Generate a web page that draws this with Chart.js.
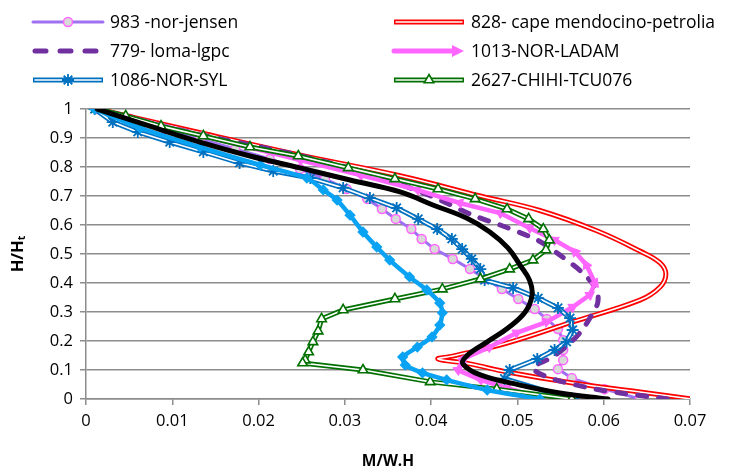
<!DOCTYPE html>
<html>
<head>
<meta charset="utf-8">
<script src="https://cdn.jsdelivr.net/npm/chart.js@4.4.1/dist/chart.umd.min.js"></script>
<style>
  body { margin: 0; background: #fff; }
  canvas { display: block; background: #fff; }
</style>
</head>
<body>
<canvas id="momentChart" width="734" height="473"></canvas>
<script>
// moment ratio M/W.H against normalised height H/Ht, one array pair per record
const jensenM = [0.0013, 0.0051, 0.0092, 0.0132, 0.0173, 0.0213, 0.0248, 0.0277, 0.0302, 0.0326, 0.0343, 0.0359, 0.0377, 0.0389, 0.0404, 0.0425, 0.0445, 0.0463, 0.0482, 0.0501, 0.052, 0.0534, 0.0547, 0.0553, 0.0553, 0.0553, 0.0547, 0.0563, 0.0601, 0.0642];
const jensenH = [1.0, 0.966, 0.931, 0.897, 0.862, 0.828, 0.793, 0.759, 0.724, 0.69, 0.655, 0.621, 0.586, 0.552, 0.517, 0.483, 0.448, 0.414, 0.379, 0.345, 0.31, 0.276, 0.241, 0.203, 0.169, 0.134, 0.103, 0.072, 0.034, 0.0];

const capeM = [0.0013, 0.013, 0.025, 0.0364, 0.0457, 0.0526, 0.0592, 0.0642, 0.0665, 0.0672, 0.0665, 0.0642, 0.0564, 0.0488, 0.0425, 0.0408, 0.0445, 0.0488, 0.0564, 0.0642, 0.0702];
const capeH = [1.0, 0.92, 0.84, 0.77, 0.70, 0.65, 0.58, 0.51, 0.47, 0.43, 0.385, 0.341, 0.266, 0.193, 0.148, 0.138, 0.121, 0.093, 0.055, 0.024, 0.0];

const lomaM = [0.0013, 0.012, 0.024, 0.033, 0.0402, 0.0448, 0.048, 0.0523, 0.0549, 0.0576, 0.0592, 0.0593, 0.0586, 0.0575, 0.0561, 0.0541, 0.0518, 0.0538, 0.0584, 0.0619, 0.0675];
const lomaH = [1.0, 0.92, 0.845, 0.775, 0.697, 0.634, 0.60, 0.548, 0.497, 0.434, 0.376, 0.331, 0.29, 0.238, 0.193, 0.145, 0.107, 0.072, 0.038, 0.021, 0.0];

// listed from the base upwards
const ladamM = [0.053, 0.0488, 0.0457, 0.0431, 0.0437, 0.0468, 0.0499, 0.0534, 0.0564, 0.0584, 0.059, 0.058, 0.0567, 0.0543, 0.0514, 0.048, 0.0433, 0.0384, 0.0318, 0.0248, 0.0132, 0.0013];
const ladamH = [0.0, 0.038, 0.066, 0.10, 0.138, 0.179, 0.228, 0.266, 0.317, 0.359, 0.40, 0.462, 0.507, 0.548, 0.59, 0.641, 0.676, 0.721, 0.772, 0.824, 0.91, 1.0];

const sylM = [0.001, 0.0031, 0.006, 0.0097, 0.0136, 0.0178, 0.0217, 0.026, 0.0298, 0.0329, 0.036, 0.0385, 0.0407, 0.0424, 0.0436, 0.0447, 0.0457, 0.0462, 0.0495, 0.0524, 0.0547, 0.0561, 0.0564, 0.0557, 0.0543, 0.0523, 0.0491, 0.0485, 0.0564];
const sylH = [1.0, 0.955, 0.921, 0.886, 0.852, 0.814, 0.786, 0.762, 0.728, 0.693, 0.659, 0.621, 0.586, 0.552, 0.517, 0.483, 0.448, 0.41, 0.383, 0.348, 0.314, 0.279, 0.238, 0.197, 0.169, 0.138, 0.10, 0.07, 0.0];

const chihiM = [0.0013, 0.0046, 0.0087, 0.0136, 0.019, 0.0246, 0.0304, 0.0358, 0.0408, 0.0451, 0.0488, 0.0513, 0.053, 0.0537, 0.0533, 0.0518, 0.0491, 0.0457, 0.0413, 0.0358, 0.0298, 0.0273, 0.0269, 0.0263, 0.0258, 0.0254, 0.0251, 0.0321, 0.0399, 0.0476, 0.0563];
const chihiH = [1.0, 0.976, 0.941, 0.907, 0.869, 0.838, 0.797, 0.759, 0.724, 0.69, 0.655, 0.621, 0.586, 0.548, 0.514, 0.479, 0.448, 0.414, 0.379, 0.345, 0.307, 0.276, 0.234, 0.197, 0.162, 0.134, 0.124, 0.10, 0.059, 0.034, 0.0];

const lightBlueM = [0.001, 0.0063, 0.0132, 0.0202, 0.0256, 0.0275, 0.0291, 0.0306, 0.0321, 0.0337, 0.0352, 0.0375, 0.0395, 0.041, 0.0413, 0.041, 0.0401, 0.0384, 0.0367, 0.037, 0.039, 0.0418, 0.0465, 0.0526];
const lightBlueH = [1.0, 0.934, 0.869, 0.807, 0.762, 0.721, 0.686, 0.634, 0.576, 0.524, 0.479, 0.421, 0.376, 0.331, 0.297, 0.255, 0.214, 0.179, 0.145, 0.117, 0.09, 0.066, 0.031, 0.0];

const meanM = [0.0013, 0.0074, 0.0132, 0.019, 0.0248, 0.0306, 0.0364, 0.0402, 0.0441, 0.0468, 0.0489, 0.0503, 0.0514, 0.0517, 0.0509, 0.0489, 0.0465, 0.0441, 0.0437, 0.0457, 0.0503, 0.0549, 0.0605];
const meanH = [1.0, 0.941, 0.886, 0.838, 0.797, 0.755, 0.714, 0.669, 0.624, 0.576, 0.521, 0.462, 0.41, 0.359, 0.30, 0.245, 0.197, 0.148, 0.121, 0.083, 0.048, 0.021, 0.0];

const xTicks = [0, 0.01, 0.02, 0.03, 0.04, 0.05, 0.06, 0.07];
const yTicks = [0, 0.1, 0.2, 0.3, 0.4, 0.5, 0.6, 0.7, 0.8, 0.9, 1];

const PURPLE_LIGHT = '#A070F2';
const PINK = '#FF66FF';
const PURPLE_DARK = '#7030A0';
const RED = '#FF0000';
const BLUE = '#0070C0';
const GREEN = '#007000';
const LIGHT_BLUE = '#0AA2F2';
const GRID = '#8C8C8C';
const FONT = "'Open Sans', 'Noto Sans', sans-serif";

function pts(xs, ys) {
  return xs.map((x, i) => ({x: x, y: ys[i]}));
}

// arrow heads follow the direction of each segment
function arrowRotation(ctx) {
  const i = ctx.dataIndex;
  const d = ctx.dataset.data;
  if (!i) return 0;
  const sx = ctx.chart.scales.x, sy = ctx.chart.scales.y;
  const dx = sx.getPixelForValue(d[i].x) - sx.getPixelForValue(d[i - 1].x);
  const dy = sy.getPixelForValue(d[i].y) - sy.getPixelForValue(d[i - 1].y);
  return Math.atan2(dx, -dy) * 180 / Math.PI;
}

const base = {showLine: true, fill: false, pointRadius: 0, tension: 0};

const datasets = [
  Object.assign({}, base, {
    label: '983 -nor-jensen', data: pts(jensenM, jensenH), order: 20,
    borderColor: PURPLE_LIGHT, borderWidth: 3,
    pointRadius: 4.5, pointStyle: 'circle', pointBackgroundColor: '#D9D9D9',
    pointBorderColor: PINK, pointBorderWidth: 1.5
  }),
  Object.assign({}, base, {
    label: '828- cape mendocino-petrolia', data: pts(capeM, capeH), order: 19,
    borderColor: RED, borderWidth: 5, tension: 0.4
  }),
  Object.assign({}, base, {
    label: '', data: pts(capeM, capeH), order: 18,
    borderColor: '#fff', borderWidth: 1.6, tension: 0.4
  }),
  Object.assign({}, base, {
    label: '779- loma-lgpc', data: pts(lomaM, lomaH), order: 17,
    borderColor: PURPLE_DARK, borderWidth: 5, borderDash: [9, 12],
    borderCapStyle: 'round', tension: 0.3
  }),
  Object.assign({}, base, {
    label: '1013-NOR-LADAM', data: pts(ladamM, ladamH), order: 16,
    borderColor: PINK, borderWidth: 4.5,
    pointStyle: 'triangle', pointRadius: c => (c.dataIndex ? 5.5 : 0),
    pointRotation: arrowRotation, pointBackgroundColor: PINK,
    pointBorderColor: PINK, pointBorderWidth: 1
  }),
  Object.assign({}, base, {
    label: '1086-NOR-SYL', data: pts(sylM, sylH), order: 15,
    borderColor: BLUE, borderWidth: 5
  }),
  Object.assign({}, base, {
    label: '', data: pts(sylM, sylH), order: 14,
    borderColor: '#fff', borderWidth: 1.6,
    pointRadius: 6, pointStyle: 'star', pointBorderColor: BLUE, pointBorderWidth: 1.8
  }),
  Object.assign({}, base, {
    label: '2627-CHIHI-TCU076', data: pts(chihiM, chihiH), order: 13,
    borderColor: GREEN, borderWidth: 5
  }),
  Object.assign({}, base, {
    label: '', data: pts(chihiM, chihiH), order: 12,
    borderColor: '#fff', borderWidth: 1.6,
    pointRadius: 5.5, pointStyle: 'triangle', pointBackgroundColor: '#fff',
    pointBorderColor: GREEN, pointBorderWidth: 1.6
  }),
  Object.assign({}, base, {
    label: '', data: pts(lightBlueM, lightBlueH), order: 2,
    borderColor: LIGHT_BLUE, borderWidth: 4.5, tension: 0.2,
    pointRadius: 2.5, pointStyle: 'rectRot', pointBackgroundColor: LIGHT_BLUE,
    pointBorderColor: LIGHT_BLUE
  }),
  Object.assign({}, base, {
    label: '', data: pts(meanM, meanH), order: 1,
    borderColor: '#000', borderWidth: 5, tension: 0.4, borderCapStyle: 'round'
  })
];

// two-column key above the plot
const legendRows = [
  {key: 'jensen', label: '983 -nor-jensen', x: 33, y: 22},
  {key: 'loma', label: '779- loma-lgpc', x: 33, y: 51},
  {key: 'syl', label: '1086-NOR-SYL', x: 33, y: 80},
  {key: 'cape', label: '828- cape mendocino-petrolia', x: 394, y: 22},
  {key: 'ladam', label: '1013-NOR-LADAM', x: 394, y: 51},
  {key: 'chihi', label: '2627-CHIHI-TCU076', x: 394, y: 80}
];

function strokeLine(ctx, x0, x1, y, color, width, dash, cap) {
  ctx.save();
  ctx.beginPath();
  ctx.strokeStyle = color;
  ctx.lineWidth = width;
  ctx.lineCap = cap || 'butt';
  ctx.setLineDash(dash || []);
  ctx.moveTo(x0, y);
  ctx.lineTo(x1, y);
  ctx.stroke();
  ctx.restore();
}

const keyPlugin = {
  id: 'keyPlugin',
  afterDraw(chart) {
    const ctx = chart.ctx;
    legendRows.forEach(r => {
      const x0 = r.x, x1 = r.x + 70, mid = r.x + 35, y = r.y;
      if (r.key === 'jensen') {
        strokeLine(ctx, x0, x1, y, PURPLE_LIGHT, 3, null, 'round');
        ctx.save();
        ctx.fillStyle = '#D9D9D9'; ctx.strokeStyle = PINK; ctx.lineWidth = 1.5;
        ctx.beginPath(); ctx.arc(mid, y, 4.5, 0, Math.PI * 2); ctx.fill(); ctx.stroke();
        ctx.restore();
      } else if (r.key === 'loma') {
        strokeLine(ctx, x0 + 2, x1 - 2, y, PURPLE_DARK, 5, [11, 14], 'round');
      } else if (r.key === 'syl') {
        strokeLine(ctx, x0, x1, y, BLUE, 5);
        strokeLine(ctx, x0 + 1.5, x1 - 1.5, y, '#fff', 1.6);
        ctx.save();
        ctx.strokeStyle = BLUE; ctx.lineWidth = 1.8;
        Chart.helpers.drawPoint(ctx, {pointStyle: 'star', radius: 6, borderWidth: 1.8}, mid, y);
        ctx.restore();
      } else if (r.key === 'cape') {
        strokeLine(ctx, x0, x1, y, RED, 5);
        strokeLine(ctx, x0 + 1.5, x1 - 1.5, y, '#fff', 1.6);
      } else if (r.key === 'ladam') {
        strokeLine(ctx, x0, x1 - 8, y, PINK, 5, null, 'round');
        ctx.save();
        ctx.fillStyle = PINK;
        ctx.beginPath();
        ctx.moveTo(x1, y); ctx.lineTo(x1 - 12, y - 6); ctx.lineTo(x1 - 12, y + 6);
        ctx.closePath(); ctx.fill();
        ctx.restore();
      } else if (r.key === 'chihi') {
        strokeLine(ctx, x0, x1, y, GREEN, 5);
        strokeLine(ctx, x0 + 1.5, x1 - 1.5, y, '#fff', 1.6);
        ctx.save();
        ctx.fillStyle = '#fff'; ctx.strokeStyle = GREEN; ctx.lineWidth = 1.6;
        Chart.helpers.drawPoint(ctx, {pointStyle: 'triangle', radius: 5.5, borderWidth: 1.6}, mid, y);
        ctx.restore();
      }
      ctx.save();
      ctx.fillStyle = '#000';
      ctx.font = '17.5px ' + FONT;
      ctx.textBaseline = 'middle';
      ctx.fillText(r.label, x1 + 7, y + 1);
      ctx.restore();
    });
  }
};

new Chart(document.getElementById('momentChart').getContext('2d'), {
  type: 'scatter',
  data: {datasets: datasets},
  plugins: [keyPlugin],
  options: {
    responsive: false,
    animation: false,
    layout: {padding: {top: 109, right: 44, left: 0, bottom: 0}},
    plugins: {legend: {display: false}, tooltip: {enabled: false}},
    scales: {
      x: {
        type: 'linear', min: 0, max: 0.07,
        afterFit: s => { s.height = 74; },
        afterBuildTicks: s => { s.ticks = xTicks.map(v => ({value: v})); },
        border: {color: GRID, width: 1.5},
        grid: {drawOnChartArea: false, drawTicks: true, tickLength: 6, color: GRID, lineWidth: 1.5},
        ticks: {padding: 6, color: '#000', font: {family: FONT, size: 16.5}, maxRotation: 0,
                callback: v => String(+v.toFixed(2))},
        title: {display: true, text: 'M/W.H', color: '#000', padding: {top: 4, bottom: 2},
                font: {family: FONT, size: 15.5, weight: 'bold'}}
      },
      y: {
        type: 'linear', min: 0, max: 1,
        afterFit: s => { s.width = 86; },
        afterBuildTicks: s => { s.ticks = yTicks.map(v => ({value: v})); },
        border: {color: GRID, width: 1.5},
        grid: {color: GRID, lineWidth: 1.5, tickLength: 6},
        ticks: {padding: 7, color: '#000', font: {family: FONT, size: 16.5},
                callback: v => String(+v.toFixed(1))},
        title: {display: true, text: 'H/Hₜ', color: '#000', padding: {top: 8, bottom: 4},
                font: {family: FONT, size: 16.5, weight: 'bold'}}
      }
    }
  }
});
</script>
</body>
</html>
